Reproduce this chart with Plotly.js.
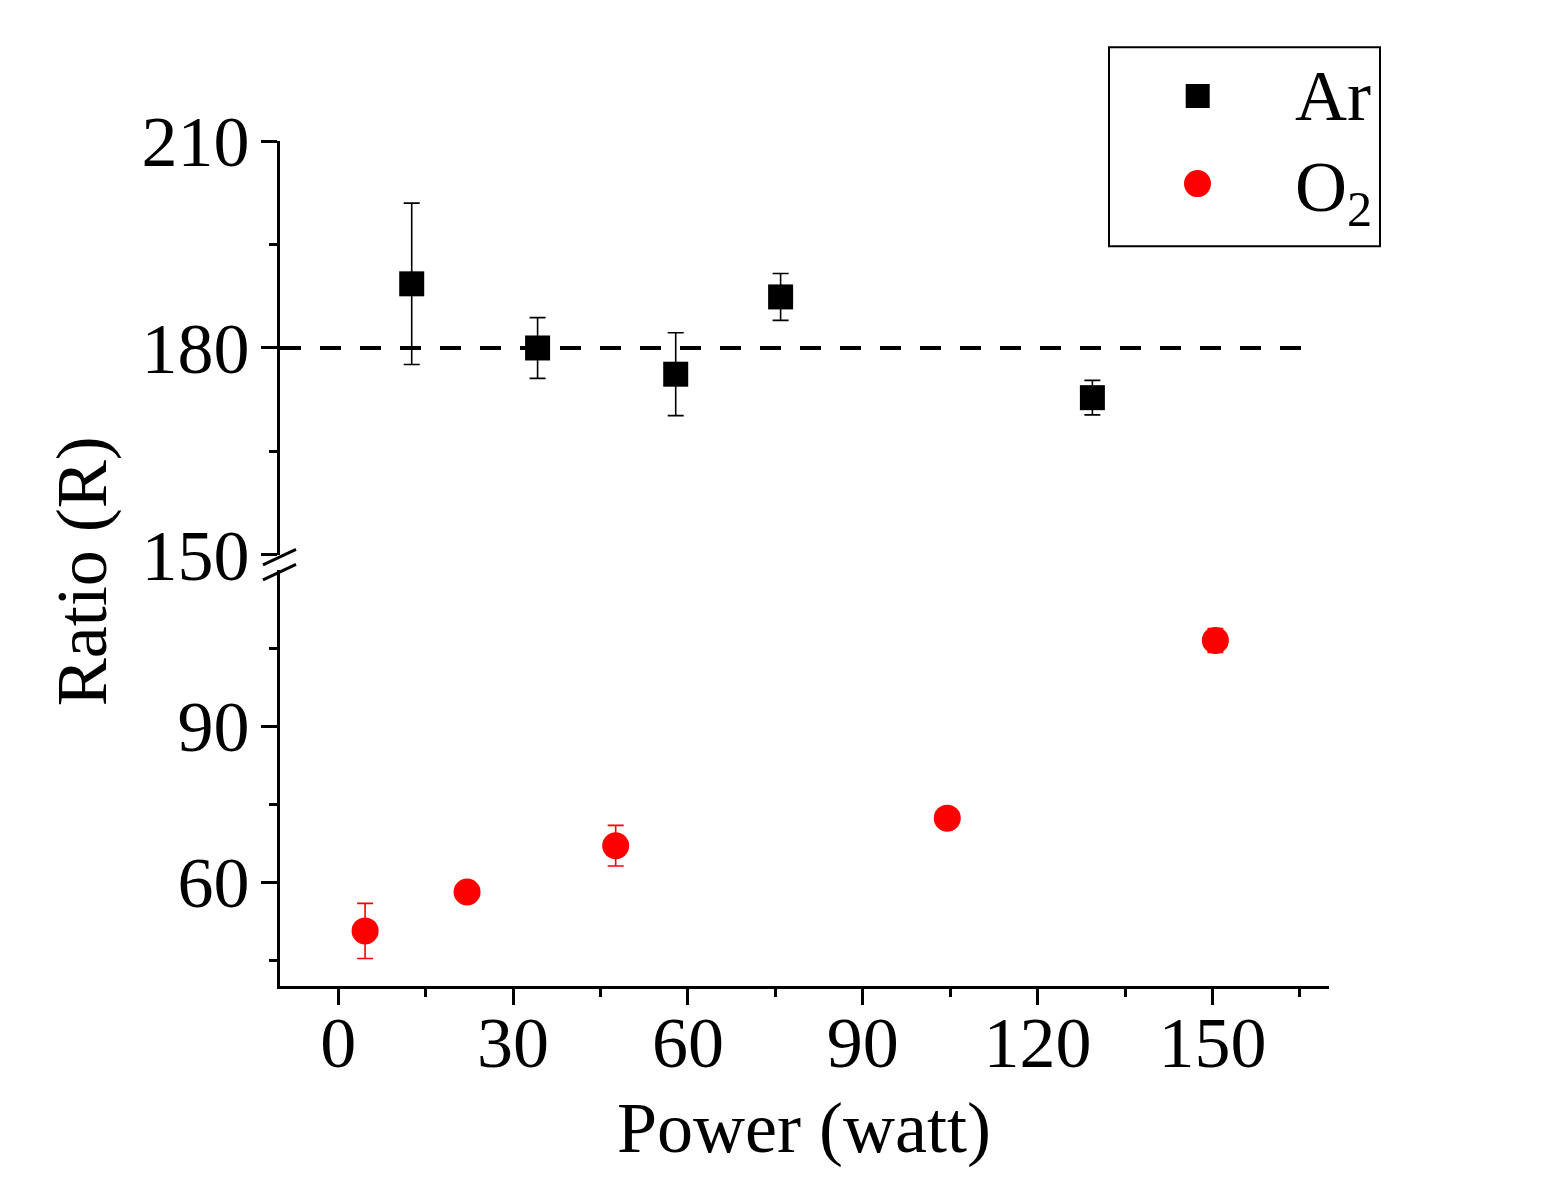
<!DOCTYPE html>
<html>
<head>
<meta charset="utf-8">
<script src="https://cdn.plot.ly/plotly-3.0.1.min.js"></script>
<style>
  html, body { margin: 0; padding: 0; background: #ffffff; }
  #chart { width: 1552px; height: 1189px; }
</style>
</head>
<body>
<div id="chart"></div>
<script>
// ---- data ----
const powerAr = [12.6, 34.2, 57.9, 75.9, 129.4];
const ratioAr = [189.3, 180.0, 176.2, 187.4, 172.8];
const errAr   = [11.7, 4.4, 6.0, 3.4, 2.5];

const powerO2 = [4.6, 22.1, 47.6, 104.5, 150.5];
const ratioO2 = [50.6, 58.1, 67.0, 72.3, 106.5];
const errO2   = [5.3, 1.5, 3.9, 1.5, 2.3];

const refRatio = 180;          // dashed reference level
const refLineEnd = 167;        // where the dashed line stops (watt)

const xTickVals = [0, 30, 60, 90, 120, 150];
const xMinorVals = [15, 45, 75, 105, 135, 165];
const upperTickVals = [150, 180, 210];
const upperMinorVals = [165, 195];
const lowerTickVals = [60, 90];
const lowerMinorVals = [45, 75, 105];

const seriesNames = ['Ar', 'O<sub>2</sub>'];

// ---- styling ----
const FONT = 'Liberation Serif, Times New Roman, serif';
const FS = 72;

const axisCommon = {
  showline: true, linecolor: '#000', linewidth: 3,
  ticks: 'outside', ticklen: 16, tickwidth: 3, tickcolor: '#000',
  showgrid: false, zeroline: false, mirror: false,
  tickfont: {family: FONT, size: FS, color: '#000'}
};
const minorCommon = {ticks: 'outside', ticklen: 8, tickwidth: 3, tickcolor: '#000', showgrid: false};

const traces = [
  {
    x: powerAr, y: ratioAr, name: seriesNames[0], type: 'scatter', mode: 'markers',
    xaxis: 'x', yaxis: 'y2',
    marker: {symbol: 'square', size: 25, color: '#000'},
    error_y: {type: 'data', array: errAr, visible: true, color: '#000', thickness: 1.6, width: 8},
    showlegend: false, cliponaxis: false
  },
  {
    x: powerO2, y: ratioO2, name: seriesNames[1], type: 'scatter', mode: 'markers',
    xaxis: 'x', yaxis: 'y',
    marker: {symbol: 'circle', size: 27, color: '#ff0000'},
    error_y: {type: 'data', array: errO2, visible: true, color: '#ff0000', thickness: 1.6, width: 8},
    showlegend: false, cliponaxis: false
  }
];

const W = 1049, H = 845;
function px(xp) { return (xp - 280) / W; }
function py(yp) { return (985.7 - yp) / H; }

const shapes = [
  // dashed reference line
  {type: 'line', xref: 'x', yref: 'y2', x0: -10, x1: refLineEnd, y0: refRatio, y1: refRatio,
   line: {color: '#000', width: 4, dash: '21px,19px'}},
  // axis break marks
  {type: 'line', xref: 'paper', yref: 'paper', x0: px(263), y0: py(564.5), x1: px(296), y1: py(549),
   line: {color: '#000', width: 3}},
  {type: 'line', xref: 'paper', yref: 'paper', x0: px(263), y0: py(579.5), x1: px(296), y1: py(564),
   line: {color: '#000', width: 3}},
  // legend box
  {type: 'rect', xref: 'paper', yref: 'paper', x0: px(1109), x1: px(1380), y0: py(246), y1: py(47),
   line: {color: '#000', width: 2}, fillcolor: 'rgba(0,0,0,0)'},
  // legend symbols
  {type: 'rect', xref: 'paper', yref: 'paper', x0: px(1185.7), x1: px(1209.7), y0: py(107.7), y1: py(83.7),
   line: {width: 0}, fillcolor: '#000'},
  {type: 'circle', xref: 'paper', yref: 'paper', x0: px(1184), x1: px(1211), y0: py(196.8), y1: py(169.8),
   line: {width: 0}, fillcolor: '#ff0000'}
];

const annotations = [
  {text: 'Power (watt)', xref: 'paper', yref: 'paper', x: px(803.5), y: py(1128), xanchor: 'center', yanchor: 'middle',
   showarrow: false, font: {family: FONT, size: FS, color: '#000'}},
  {text: 'Ratio (R)', xref: 'paper', yref: 'paper', x: px(82), y: py(571), xanchor: 'center', yanchor: 'middle',
   textangle: -90, showarrow: false, font: {family: FONT, size: FS, color: '#000'}},
  {text: seriesNames[0], xref: 'paper', yref: 'paper', x: px(1293), y: py(96), xanchor: 'left', yanchor: 'middle',
   showarrow: false, font: {family: FONT, size: FS, color: '#000'}},
  {text: seriesNames[1], xref: 'paper', yref: 'paper', x: px(1293), y: py(192), xanchor: 'left', yanchor: 'middle',
   showarrow: false, font: {family: FONT, size: FS, color: '#000'}}
];

const layout = {
  width: 1552, height: 1189,
  margin: {l: 280, r: 223, t: 141, b: 203, pad: 0},
  paper_bgcolor: '#fff', plot_bgcolor: '#fff',
  showlegend: false,
  font: {family: FONT, size: FS, color: '#000'},
  xaxis: Object.assign({}, axisCommon, {
    range: [-10, 170], tickmode: 'array', tickvals: xTickVals, ticktext: xTickVals.map(String),
    anchor: 'y', ticklabelstandoff: -24,
    minor: Object.assign({}, minorCommon, {tickmode: 'array', tickvals: xMinorVals})
  }),
  yaxis: Object.assign({}, axisCommon, {
    domain: [0, 0.492], range: [40, 120], tickmode: 'array', tickvals: lowerTickVals,
    ticktext: lowerTickVals.map(String), anchor: 'x', ticklabelstandoff: -3,
    minor: Object.assign({}, minorCommon, {tickmode: 'array', tickvals: lowerMinorVals})
  }),
  yaxis2: Object.assign({}, axisCommon, {
    domain: [0.5101, 1], range: [150, 210], tickmode: 'array', tickvals: upperTickVals,
    ticktext: upperTickVals.map(String), anchor: 'x', ticklabelstandoff: -3,
    minor: Object.assign({}, minorCommon, {tickmode: 'array', tickvals: upperMinorVals})
  }),
  shapes: shapes,
  annotations: annotations
};

Plotly.newPlot('chart', traces, layout, {staticPlot: true, displayModeBar: false});
</script>
</body>
</html>
